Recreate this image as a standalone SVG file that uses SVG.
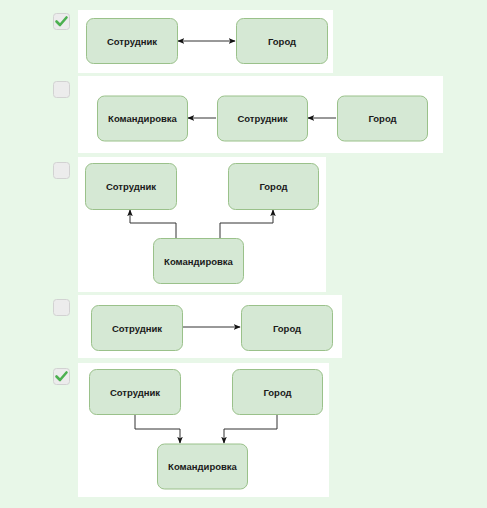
<svg xmlns="http://www.w3.org/2000/svg" width="487" height="508" viewBox="0 0 487 508">
<style>
.bg{fill:#e8f7e8}
.panel{fill:#ffffff}
.cb{fill:#ececec;stroke:#d2d2d2;stroke-width:1}
.chk{fill:none;stroke:#4cb050;stroke-width:2.6;stroke-linecap:round;stroke-linejoin:round}
.node rect{fill:#d5e8d4;stroke:#9ac18a;stroke-width:1}
.node text{font-family:"Liberation Sans",Arial,sans-serif;font-size:9.5px;font-weight:bold;fill:#1a1a1a;text-anchor:middle;dominant-baseline:central}
.edge{fill:none;stroke:#333333;stroke-width:1}
</style>
<defs>
<marker id="ah" viewBox="0 0 10 10" refX="9" refY="5" markerWidth="7" markerHeight="7" orient="auto-start-reverse" markerUnits="userSpaceOnUse">
<path d="M0,1 L10,5 L0,9 L2.5,5 Z" fill="#111111"/>
</marker>
</defs>
<rect class="bg" x="0" y="0" width="487" height="508"/>
<g id="panels">
<rect class="panel" x="78" y="10" width="255" height="63"/>
<rect class="panel" x="78" y="76" width="365" height="77"/>
<rect class="panel" x="78" y="157" width="248" height="135"/>
<rect class="panel" x="78" y="295" width="264" height="63"/>
<rect class="panel" x="78" y="363" width="251" height="134"/>
</g>
<g id="checkboxes">
<rect class="cb" x="53.5" y="13.5" width="16" height="16" rx="3"/>
<path class="chk" d="M56.5,21.5 L60,25 L66.5,17.5"/>
<rect class="cb" x="53.5" y="81.5" width="16" height="16" rx="3"/>
<rect class="cb" x="53.5" y="162.5" width="16" height="16" rx="3"/>
<rect class="cb" x="53.5" y="299.5" width="16" height="16" rx="3"/>
<rect class="cb" x="53.5" y="368.5" width="16" height="16" rx="3"/>
<path class="chk" d="M56.5,376.5 L60,380 L66.5,372.5"/>
</g>
<g id="connectors">
<path class="edge" d="M178,41 L235,41" marker-start="url(#ah)" marker-end="url(#ah)"/>
<path class="edge" d="M216,118 L188,118" marker-end="url(#ah)"/>
<path class="edge" d="M336,118 L308,118" marker-end="url(#ah)"/>
<path class="edge" d="M176,238 L176,223 L130,223 L130,210" marker-end="url(#ah)"/>
<path class="edge" d="M220,238 L220,223 L273,223 L273,210" marker-end="url(#ah)"/>
<path class="edge" d="M182,327 L240,327" marker-end="url(#ah)"/>
<path class="edge" d="M135,414 L135,429 L180,429 L180,443" marker-end="url(#ah)"/>
<path class="edge" d="M277,414 L277,429 L224,429 L224,443" marker-end="url(#ah)"/>
</g>
<g id="n1a" class="node"><rect x="86.5" y="18.5" width="91" height="45" rx="7"/><text x="132" y="41">Сотрудник</text></g>
<g id="n1b" class="node"><rect x="236.5" y="18.5" width="91" height="45" rx="7"/><text x="282" y="41">Город</text></g>
<g id="n2a" class="node"><rect x="97.5" y="96" width="90" height="45" rx="7"/><text x="142.5" y="118.5">Командировка</text></g>
<g id="n2b" class="node"><rect x="217.5" y="96" width="90" height="45" rx="7"/><text x="262.5" y="118.5">Сотрудник</text></g>
<g id="n2c" class="node"><rect x="337.5" y="96" width="90" height="45" rx="7"/><text x="382.5" y="118.5">Город</text></g>
<g id="n3a" class="node"><rect x="85.5" y="163.5" width="91" height="46" rx="7"/><text x="131" y="186.5">Сотрудник</text></g>
<g id="n3b" class="node"><rect x="228.5" y="163.5" width="90" height="46" rx="7"/><text x="273.5" y="186.5">Город</text></g>
<g id="n3c" class="node"><rect x="153.5" y="238.5" width="90" height="45" rx="7"/><text x="198.5" y="261">Командировка</text></g>
<g id="n4a" class="node"><rect x="91.5" y="305.5" width="91" height="45" rx="7"/><text x="137" y="328">Сотрудник</text></g>
<g id="n4b" class="node"><rect x="241.5" y="305.5" width="91" height="45" rx="7"/><text x="287" y="328">Город</text></g>
<g id="n5a" class="node"><rect x="89.5" y="369.5" width="91" height="45" rx="7"/><text x="135" y="392">Сотрудник</text></g>
<g id="n5b" class="node"><rect x="232.5" y="369.5" width="90" height="45" rx="7"/><text x="277.5" y="392">Город</text></g>
<g id="n5c" class="node"><rect x="157.5" y="444" width="90" height="45" rx="7"/><text x="202.5" y="466.5">Командировка</text></g>
</svg>
